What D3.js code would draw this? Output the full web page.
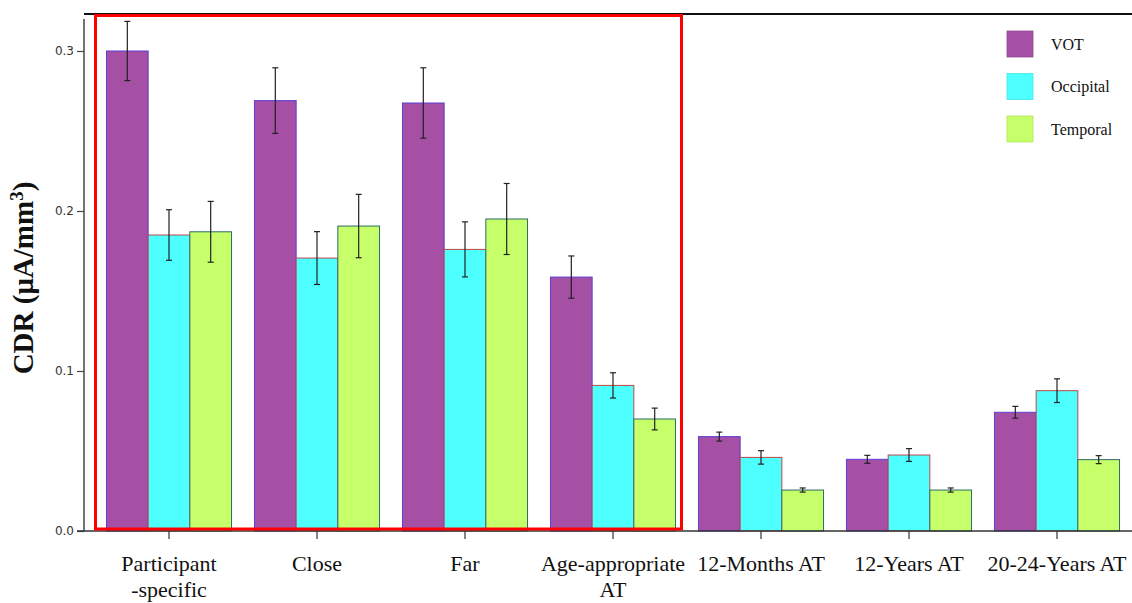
<!DOCTYPE html>
<html><head><meta charset="utf-8">
<script src="https://cdn.jsdelivr.net/npm/d3@7"></script>
<style>body{margin:0;background:#fff}svg{display:block}</style>
</head><body><svg id="c" width="1132" height="603"></svg>
<script>
const categories = [["Participant","-specific"],["Close"],["Far"],["Age-appropriate","AT"],["12-Months AT"],["12-Years AT"],["20-24-Years AT"]];
const seriesNames = ["VOT","Occipital","Temporal"];
const votValues = [0.300, 0.269, 0.2675, 0.1587, 0.059, 0.0448, 0.0742];
const votErr = [0.0185, 0.0205, 0.022, 0.0132, 0.0028, 0.0025, 0.0037];
const occValues = [0.185, 0.1706, 0.176, 0.091, 0.046, 0.0475, 0.0877];
const occErr = [0.0158, 0.0165, 0.0172, 0.0079, 0.0042, 0.004, 0.0074];
const tempValues = [0.187, 0.1906, 0.195, 0.070, 0.0256, 0.0256, 0.0446];
const tempErr = [0.019, 0.0198, 0.0222, 0.0068, 0.0013, 0.0013, 0.0025];
const yTicks = [0.0, 0.1, 0.2, 0.3];
const fills = ["#A54FA5", "#4DFFFF", "#C6FF6A"];
const strokes = ["#5C3FD6", "#C04848", "#2E6B66"];

const svg = d3.select("#c");
const x0 = d3.scaleBand().domain(d3.range(categories.length)).range([95, 1131]).paddingInner(0.155).paddingOuter(0.0775);
const x1 = d3.scaleBand().domain(d3.range(3)).range([0, x0.bandwidth()]);
const y = d3.scaleLinear().domain([0, 0.3]).range([531, 51]);

const series = [[votValues, votErr],[occValues, occErr],[tempValues, tempErr]];

// bars
series.forEach(([vals, errs], s) => {
  svg.append("g").selectAll("rect").data(vals).join("rect")
    .attr("x", (d,i) => x0(i) + x1(s))
    .attr("y", d => y(d))
    .attr("width", x1.bandwidth())
    .attr("height", d => y(0) - y(d))
    .attr("fill", fills[s]).attr("stroke", strokes[s]).attr("stroke-width", 1);
});
// error bars
series.forEach(([vals, errs], s) => {
  const g = svg.append("g").attr("stroke", "#222").attr("stroke-width", 1.2);
  vals.forEach((v, i) => {
    const cx = x0(i) + x1(s) + x1.bandwidth()/2;
    g.append("line").attr("x1", cx).attr("x2", cx).attr("y1", y(v + errs[i])).attr("y2", y(v - errs[i]));
    g.append("line").attr("x1", cx-3).attr("x2", cx+3).attr("y1", y(v + errs[i])).attr("y2", y(v + errs[i]));
    g.append("line").attr("x1", cx-3).attr("x2", cx+3).attr("y1", y(v - errs[i])).attr("y2", y(v - errs[i]));
  });
});

// y axis
const yAxis = d3.axisLeft(y).tickValues(yTicks).tickFormat(d3.format(".1f")).tickSize(7).tickSizeOuter(0);
const gy = svg.append("g").attr("transform", "translate(84,0)").call(yAxis);
gy.select(".domain").remove();
gy.append("line").attr("x1",0).attr("x2",0).attr("y1",19).attr("y2",531).attr("stroke","#444").attr("stroke-width",1.5);
gy.selectAll(".tick line").attr("stroke","#444").attr("stroke-width",1.2);
gy.selectAll(".tick text").attr("font-family","DejaVu Sans, sans-serif").attr("font-size",12).attr("fill","#333").attr("x",-10);

// x axis
const xAxis = d3.axisBottom(x0).tickSize(8).tickSizeOuter(0).tickFormat("");
const gx = svg.append("g").attr("transform", "translate(0,531)").call(xAxis);
gx.select(".domain").remove();
gx.append("line").attr("x1",77).attr("x2",1132).attr("y1",0).attr("y2",0).attr("stroke","#333").attr("stroke-width",1.5);
gx.selectAll(".tick line").attr("stroke","#333").attr("stroke-width",1.2);
gx.selectAll(".tick").each(function(d){
  const t = d3.select(this).append("text").attr("fill","#111").attr("text-anchor","middle")
    .attr("font-family","Liberation Serif, Times New Roman, serif").attr("font-size",22);
  categories[d].forEach((line, k) => t.append("tspan").attr("x",0).attr("y", 40 + k*26).text(line));
});

// top line
svg.append("line").attr("x1",84).attr("x2",1132).attr("y1",14).attr("y2",14).attr("stroke","#111").attr("stroke-width",2);

// red box
svg.append("rect").attr("x",95.5).attr("y",15.5).attr("width",586).attr("height",513.5)
  .attr("fill","none").attr("stroke","#FF0000").attr("stroke-width",3);

// y title
svg.append("text").attr("transform","translate(33,278) rotate(-90)").attr("text-anchor","middle")
  .attr("font-family","Liberation Serif, Times New Roman, serif").attr("font-weight","bold").attr("font-size",29).attr("fill","#111")
  .call(t => { t.append("tspan").text("CDR (μA/mm"); t.append("tspan").attr("dy",-10).attr("font-size",19).text("3"); t.append("tspan").attr("dy",10).text(")"); });

// legend
const leg = svg.append("g");
seriesNames.forEach((n, i) => {
  leg.append("rect").attr("x",1007).attr("y",31 + i*42.5).attr("width",26).attr("height",26).attr("fill",fills[i]).attr("stroke", d3.color(fills[i]).darker(0.3)).attr("stroke-width",0.8);
  leg.append("text").attr("x",1051).attr("y",44 + i*42.5).attr("dy","0.35em").attr("font-family","Liberation Serif, Times New Roman, serif").attr("font-size",16).attr("fill","#111").text(n);
});
</script></body></html>
